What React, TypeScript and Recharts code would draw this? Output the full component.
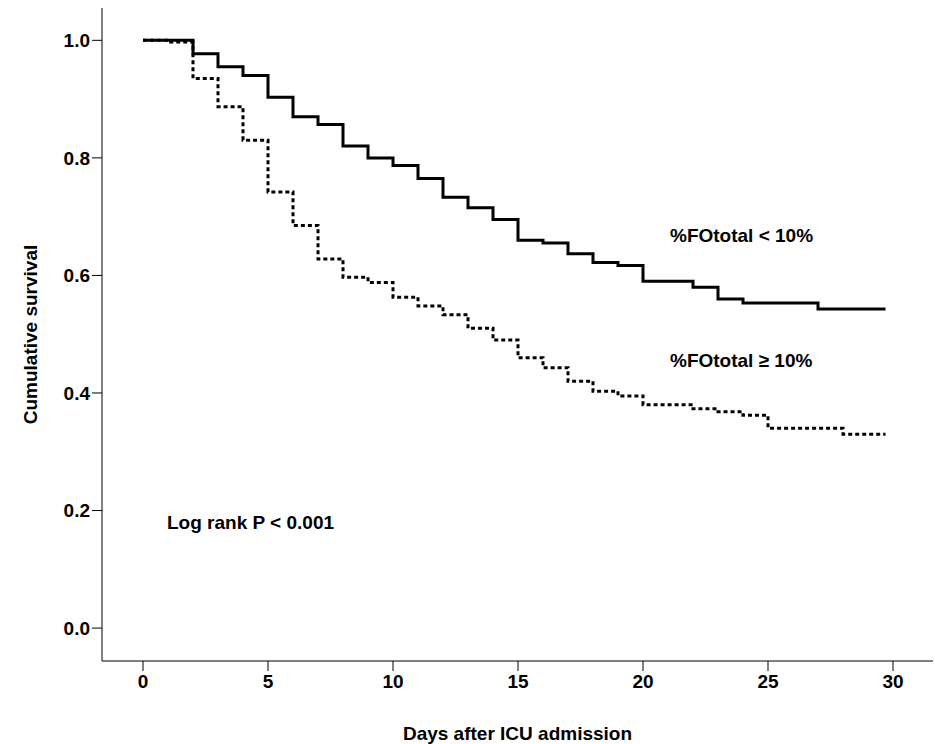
import React from "react";
import { LineChart, Line, XAxis, YAxis, Label } from "recharts";

const timesLow = [0, 2, 3, 4, 5, 6, 7, 8, 9, 10, 11, 12, 13, 14, 15, 16, 17, 18, 19, 20, 22, 23, 24, 27, 29.7];
const survLow = [1.0, 0.977, 0.955, 0.94, 0.903, 0.87, 0.857, 0.82, 0.8, 0.787, 0.765, 0.733, 0.715, 0.695, 0.66, 0.655, 0.637, 0.622, 0.617, 0.59, 0.58, 0.56, 0.553, 0.543, 0.543];
const timesHigh = [0, 1, 2, 3, 4, 5, 6, 7, 8, 9, 10, 11, 12, 13, 14, 15, 16, 17, 18, 19, 20, 22, 23, 24, 25, 28, 29.7];
const survHigh = [1.0, 0.997, 0.935, 0.887, 0.83, 0.742, 0.685, 0.628, 0.597, 0.588, 0.563, 0.548, 0.533, 0.51, 0.49, 0.46, 0.443, 0.42, 0.403, 0.395, 0.38, 0.373, 0.368, 0.362, 0.34, 0.33, 0.33];
const xTicks = [0, 5, 10, 15, 20, 25, 30];
const yTicks = [0, 0.2, 0.4, 0.6, 0.8, 1.0];

const lowData = timesLow.map((t, i) => ({ t, s: survLow[i] }));
const highData = timesHigh.map((t, i) => ({ t, s: survHigh[i] }));

const font = "Arial, 'Liberation Sans', sans-serif";
const tickStyle = { fill: "#000", fontSize: 19, fontWeight: "bold", fontFamily: font };

export default function App() {
  return (
    <div style={{ position: "absolute", left: 0, top: 0 }}>
      <LineChart width={935} height={744} margin={{ top: 8, right: 2, bottom: 0, left: 42 }}>
        <XAxis
          type="number"
          dataKey="t"
          domain={[-1.64, 31.6]}
          ticks={xTicks}
          height={83}
          tick={tickStyle}
          tickSize={10}
          tickMargin={4}
          stroke="#000"
          allowDataOverflow
        >
          <Label value="Days after ICU admission" position="insideBottom" offset={4} style={tickStyle} />
        </XAxis>
        <YAxis
          type="number"
          dataKey="s"
          domain={[-0.056, 1.055]}
          ticks={yTicks}
          width={60}
          tick={tickStyle}
          tickSize={10}
          tickFormatter={(v: number) => v.toFixed(1)}
          stroke="#000"
          allowDataOverflow
        >
          <Label value="Cumulative survival" angle={-90} position="insideLeft" offset={-12} style={{ ...tickStyle, textAnchor: "middle" }} />
        </YAxis>
        <Line data={lowData} dataKey="s" type="stepAfter" stroke="#000" strokeWidth={3} dot={false} isAnimationActive={false} />
        <Line data={highData} dataKey="s" type="stepAfter" stroke="#000" strokeWidth={3} strokeDasharray="4 3" dot={false} isAnimationActive={false} />
        <text x={670} y={242} style={tickStyle}>%FOtotal &lt; 10%</text>
        <text x={670} y={367} style={tickStyle}>%FOtotal ≥ 10%</text>
        <text x={167} y={529} style={tickStyle}>Log rank P &lt; 0.001</text>
      </LineChart>
    </div>
  );
}
